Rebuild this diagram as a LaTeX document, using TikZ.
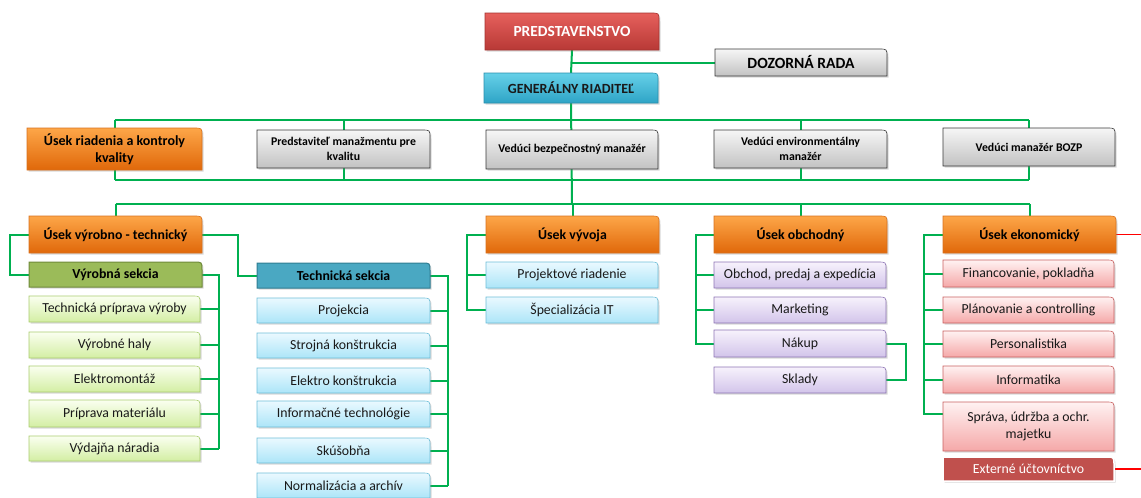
\documentclass[tikz,border=0pt]{standalone}
\usepackage{fontspec}
\setmainfont{Carlito}
\usetikzlibrary{shadows,calc}
\pgfdeclarelayer{bg}
\pgfsetlayers{bg,main}
\definecolor{lineG}{HTML}{00B050}
\definecolor{lineR}{HTML}{FF0000}
\definecolor{redT}{HTML}{E6605C}
\definecolor{redB}{HTML}{B83936}
\definecolor{redD}{HTML}{A33330}
\definecolor{cyanT}{HTML}{66D0E8}
\definecolor{cyanB}{HTML}{2EA4C6}
\definecolor{cyanD}{HTML}{2A8FAD}
\definecolor{grayT}{HTML}{F6F6F6}
\definecolor{grayB}{HTML}{C2C2C2}
\definecolor{grayD}{HTML}{3A3A3A}
\definecolor{orT}{HTML}{FDA648}
\definecolor{orB}{HTML}{E0680A}
\definecolor{orD}{HTML}{D7711E}
\definecolor{vsF}{HTML}{9BBB59}
\definecolor{vsD}{HTML}{6F8A3A}
\definecolor{gT}{HTML}{FAFFF0}
\definecolor{gB}{HTML}{D3EEA3}
\definecolor{gD}{HTML}{A9CC6E}
\definecolor{tsF}{HTML}{4AA8C2}
\definecolor{tsD}{HTML}{2F7D92}
\definecolor{bT}{HTML}{EAF9FF}
\definecolor{bB}{HTML}{ACE5F8}
\definecolor{bD}{HTML}{6FBED8}
\definecolor{pT}{HTML}{F7F2FC}
\definecolor{pB}{HTML}{D2C4EA}
\definecolor{pD}{HTML}{8E75B5}
\definecolor{rT}{HTML}{FFF2F2}
\definecolor{rB}{HTML}{F5A8A8}
\definecolor{rD}{HTML}{C96060}
\definecolor{extF}{HTML}{C0504D}
\tikzset{
  boxshape/.style={line width=0.6pt,drop shadow={opacity=0.3,shadow xshift=1.5pt,shadow yshift=-1.5pt}},
  boxtext/.style={inner sep=0pt,align=center,text=black},
  conn/.style={draw=lineG,line width=2pt},
  connred/.style={draw=lineR,line width=1.6pt},
  redbox/.style={top color=redT,bottom color=redB,draw=redD},
  cyanbox/.style={top color=cyanT,bottom color=cyanB,draw=cyanD},
  graybox/.style={top color=grayT,bottom color=grayB,draw=grayD},
  orbox/.style={top color=orT,bottom color=orB,draw=orD},
  vsbox/.style={fill=vsF,draw=vsD,line width=1pt},
  gbox/.style={top color=gT,bottom color=gB,draw=gD},
  tsbox/.style={fill=tsF,draw=tsD,line width=1pt},
  bbox/.style={top color=bT,bottom color=bB,draw=bD},
  pbox/.style={top color=pT,bottom color=pB,draw=pD},
  rbox/.style={top color=rT,bottom color=rB,draw=rD},
  extbox/.style={fill=extF,draw=white,line width=1.5pt},
  lvtwo/.style={font=\bfseries\fontsize{11.8}{15}\selectfont},
  headbold/.style={font=\bfseries\fontsize{13.8}{17}\selectfont},
  item/.style={font=\fontsize{13.8}{17}\selectfont,text=black!90},
}
\newcommand\orgbox[8]{%
  \path[boxshape,#6] (#2,#3) -- ({#4-8},#3) .. controls (#4,#3) .. (#4,{#3+8}) -- (#4,#5) -- (#2,#5) -- cycle;
  \node[boxtext,#7,minimum width={(#4-#2)*1pt},minimum height={(#5-#3)*1pt}] (#1) at ({(#2+#4)/2},{(#3+#5)/2}) {#8};}
\begin{document}
\begin{tikzpicture}[x=1pt,y=-1pt]
\useasboundingbox (0,0) rectangle (1141,498);
% level 0/1
\orgbox{pred}{485}{13}{659}{50}{redbox}{font=\bfseries\fontsize{15.4}{18}\selectfont,text=white}{PREDSTAVENSTVO}
\orgbox{dozor}{715}{49}{887}{76}{graybox}{font=\bfseries\fontsize{15.6}{18}\selectfont}{DOZORNÁ RADA}
\orgbox{gr}{484}{73}{658}{103}{cyanbox}{font=\bfseries\fontsize{14}{16}\selectfont,text=black!90}{GENERÁLNY RIADITEĽ}
% level 2
\orgbox{q1}{27}{128}{202}{170}{orbox}{font=\bfseries\fontsize{14}{17}\selectfont}{Úsek riadenia a kontroly\\kvality}
\orgbox{q2}{257}{130}{430}{168}{graybox}{lvtwo}{Predstaviteľ manažmentu pre\\kvalitu}
\orgbox{q3}{486}{130}{658}{169}{graybox}{lvtwo}{Vedúci bezpečnostný manažér}
\orgbox{q4}{714}{130}{887}{168}{graybox}{lvtwo}{Vedúci environmentálny\\manažér}
\orgbox{q5}{943}{128}{1115}{166}{graybox}{lvtwo}{Vedúci manažér BOZP}
% level 3
\orgbox{u1}{29}{216}{202}{253}{orbox}{headbold}{Úsek výrobno - technický}
\orgbox{u2}{486}{216}{659}{253}{orbox}{headbold}{Úsek vývoja}
\orgbox{u3}{714}{216}{887}{253}{orbox}{headbold}{Úsek obchodný}
\orgbox{u4}{943}{216}{1116}{253}{orbox}{headbold}{Úsek ekonomický}
% vyrobna sekcia
\orgbox{vs}{29}{262}{202}{287}{vsbox}{headbold}{Výrobná sekcia}
\orgbox{g1}{29}{296}{200}{322}{gbox}{item}{Technická príprava výroby}
\orgbox{g2}{29}{332}{200}{358}{gbox}{item}{Výrobné haly}
\orgbox{g3}{29}{366}{200}{392}{gbox}{item}{Elektromontáž}
\orgbox{g4}{29}{400}{200}{427}{gbox}{item}{Príprava materiálu}
\orgbox{g5}{29}{436}{200}{461}{gbox}{item}{Výdajňa náradia}
% technicka sekcia
\orgbox{ts}{257}{263}{430}{288}{tsbox}{headbold}{Technická sekcia}
\orgbox{b1}{257}{298}{430}{323}{bbox}{item}{Projekcia}
\orgbox{b2}{257}{333}{430}{358}{bbox}{item}{Strojná konštrukcia}
\orgbox{b3}{257}{368}{430}{393}{bbox}{item}{Elektro konštrukcia}
\orgbox{b4}{257}{401}{430}{427}{bbox}{item}{Informačné technológie}
\orgbox{b5}{257}{438}{430}{463}{bbox}{item}{Skúšobňa}
\orgbox{b6}{257}{473}{430}{498}{bbox}{item}{Normalizácia a archív}
% vyvoj
\orgbox{v1}{486}{262}{658}{288}{bbox}{item}{Projektové riadenie}
\orgbox{v2}{486}{297}{658}{323}{bbox}{item}{Špecializácia IT}
% obchod
\orgbox{o1}{714}{262}{886}{288}{pbox}{item}{Obchod, predaj a expedícia}
\orgbox{o2}{714}{297}{886}{323}{pbox}{item}{Marketing}
\orgbox{o3}{714}{330}{886}{357}{pbox}{item}{Nákup}
\orgbox{o4}{714}{367}{886}{393}{pbox}{item}{Sklady}
% ekonomicky
\orgbox{e1}{943}{260}{1114}{287}{rbox}{item}{Financovanie, pokladňa}
\orgbox{e2}{943}{297}{1114}{323}{rbox}{item}{Plánovanie a controlling}
\orgbox{e3}{943}{331}{1114}{357}{rbox}{item}{Personalistika}
\orgbox{e4}{943}{366}{1114}{393}{rbox}{item}{Informatika}
\orgbox{e5}{943}{402}{1114}{451}{rbox}{item}{Správa, údržba a ochr.\\majetku}
\orgbox{e6}{943}{457}{1114}{481}{extbox}{item,text=white}{Externé účtovníctvo}
% helper coordinates
\coordinate (busT) at (0,120);
\coordinate (busB) at (0,180);
\coordinate (bus3) at (0,204);
\coordinate (xL1) at (10,0);
\coordinate (xT) at (238,0);
\coordinate (xV) at (219,0);
\coordinate (xTs) at (448,0);
\coordinate (xU2) at (467,0);
\coordinate (xU3) at (696,0);
\coordinate (xN) at (906,0);
\coordinate (xU4) at (924,0);
\coordinate (xR) at (1141,0);
\coordinate (e5b) at ($(e5.north west)!0.25!(e5.south west)$);
\begin{pgfonlayer}{bg}
\draw[conn] (pred.south) -- (gr.north);
\draw[conn] (pred.south |- dozor.west) -- (dozor.west);
\draw[conn] (gr.south) -- (q3.center |- bus3);
\draw[conn] (q1.center |- busT) -- (q5.center |- busT);
\draw[conn] (q1.center |- busB) -- (q5.center |- busB);
\foreach \q in {q1,q2,q4,q5}{\draw[conn] (\q.center |- busT) -- (\q.center |- busB);}
\draw[conn] (u1.north |- bus3) -- (u4.north |- bus3);
\foreach \u in {u1,u2,u3,u4}{\draw[conn] (\u.north |- bus3) -- (\u.north);}
% vyrobno-technicky
\draw[conn] (u1.west) -- (u1.west -| xL1) |- (vs.west);
\draw[conn] (u1.east) -- (u1.east -| xT) |- (ts.west);
\draw[conn] (vs.east) -- (vs.east -| xV) -- (g5.east -| xV);
\foreach \g in {g1,g2,g3,g4,g5}{\draw[conn] (\g.east) -- (\g.east -| xV);}
\draw[conn] (ts.east) -- (ts.east -| xTs) -- (b6.east -| xTs);
\foreach \b in {b1,b2,b3,b4,b5,b6}{\draw[conn] (\b.east) -- (\b.east -| xTs);}
% vyvoj
\draw[conn] (u2.west) -- (u2.west -| xU2) -- (v2.west -| xU2) -- (v2.west);
\draw[conn] (v1.west) -- (v1.west -| xU2);
% obchod
\draw[conn] (u3.west) -- (u3.west -| xU3) -- (o3.west -| xU3) -- (o3.west);
\foreach \o in {o1,o2}{\draw[conn] (\o.west) -- (\o.west -| xU3);}
\draw[conn] (o3.east) -- (o3.east -| xN) -- (o4.east -| xN) -- (o4.east);
% ekonomicky
\draw[conn] (u4.west) -- (u4.west -| xU4) -- (e5b -| xU4) -- (e5b);
\foreach \e in {e1,e2,e3,e4}{\draw[conn] (\e.west) -- (\e.west -| xU4);}
\draw[connred] (u4.east) -- (u4.east -| xR);
\draw[connred] (e6.east) -- (e6.east -| xR);
\end{pgfonlayer}
\end{tikzpicture}
\end{document}
